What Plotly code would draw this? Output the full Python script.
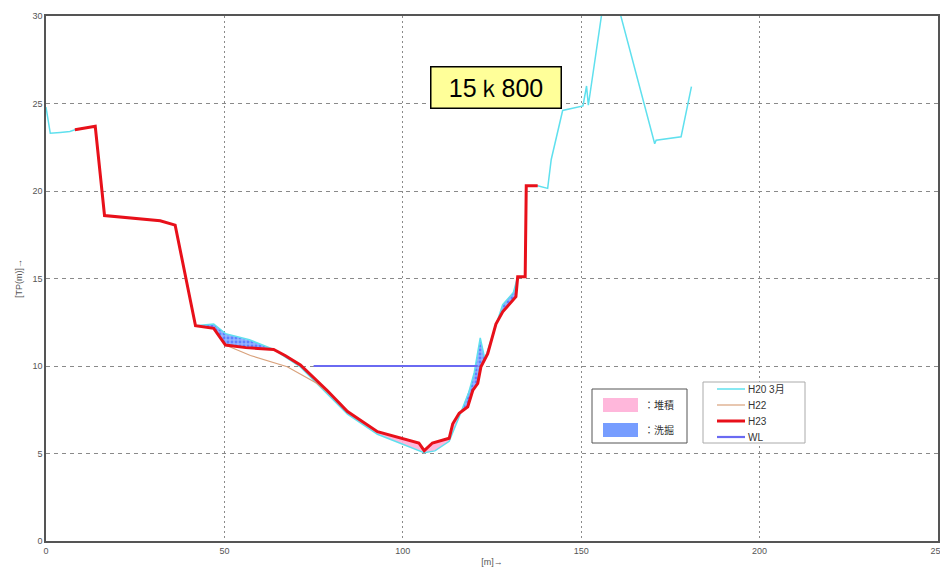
import numpy as np
import plotly.graph_objects as go

# ---- data ----
h23_x = [8.1, 13.8, 16.4, 32.0, 36.2, 41.9, 47.0, 50.3, 56.0, 63.8, 67.0, 71.3, 78.8, 84.5,
         92.9, 99.4, 103.2, 104.5, 106.0, 108.3, 113.0, 114.0, 115.8, 118.2, 119.6, 121.0,
         121.9, 123.8, 126.1, 128.0, 131.7, 132.2, 134.3, 134.6, 137.8]
h23_y = [23.5, 23.7, 18.6, 18.3, 18.05, 12.3, 12.15, 11.2, 11.05, 10.95, 10.6, 10.06, 8.6, 7.4,
         6.25, 5.87, 5.67, 5.6, 5.16, 5.6, 5.87, 6.7, 7.3, 7.67, 8.6, 9.0,
         9.96, 10.7, 12.4, 13.1, 13.96, 15.1, 15.1, 20.3, 20.3]

h22_x = [8.1, 13.8, 16.4, 32.0, 36.2, 41.9, 47.0, 50.3, 57.3, 67.6, 76.0, 82.6, 84.5,
         92.9, 99.4, 103.2, 104.5, 106.0, 108.3, 113.0, 114.0, 115.8, 118.2, 119.6, 121.0,
         121.9, 123.8, 126.1, 128.0, 131.7, 132.2, 134.3, 134.6, 137.8]
h22_y = [23.5, 23.7, 18.6, 18.3, 18.05, 12.3, 12.15, 11.2, 10.6, 9.96, 9.0, 7.85, 7.4,
         6.25, 5.87, 5.67, 5.6, 5.16, 5.6, 5.87, 6.7, 7.3, 7.67, 8.6, 9.0,
         9.96, 10.7, 12.4, 13.1, 13.96, 15.1, 15.1, 20.3, 20.3]

h20_x = [0.0, 1.2, 4.0, 6.7, 8.1, 13.8, 16.4, 32.0, 36.2, 41.9, 47.0, 50.3, 57.0, 63.8, 71.3,
         78.8, 84.5, 92.9, 99.4, 103.0, 106.0, 109.0, 113.0, 115.8, 118.5, 120.0, 121.7,
         123.0, 126.1, 128.0, 131.0, 132.2, 134.3, 134.6, 137.8, 140.6, 141.6, 144.8,
         150.5, 151.5, 152.0, 157.6, 170.6, 171.0, 178.0, 180.9]
h20_y = [24.8, 23.3, 23.35, 23.4, 23.5, 23.7, 18.6, 18.3, 18.05, 12.3, 12.4, 11.85, 11.5, 10.95, 9.95,
         8.4, 7.25, 6.1, 5.6, 5.3, 5.05, 5.15, 5.7, 7.1, 8.5, 9.6, 11.6,
         10.4, 12.4, 13.5, 14.2, 15.1, 15.1, 20.3, 20.3, 20.15, 21.8, 24.6,
         24.86, 26.0, 24.9, 32.7, 22.7, 22.9, 23.1, 25.96]

wl_x = [75.0, 121.0]
wl_y = [10.0, 10.0]

x_ticks = [0, 50, 100, 150, 200, 250]
y_ticks = [0, 5, 10, 15, 20, 25, 30]
section_label = "15ｋ800"

series_names = ["H20 3月", "H22", "H23", "WL"]
series_colors = ["#5fe0ee", "#d9a27c", "#e8101a", "#6a6af2"]
series_widths = [1.5, 1.2, 3, 2.2]
area_names = ["：堆積", "：洗掘"]
area_colors = ["rgba(255,175,215,0.9)", "rgba(95,140,255,0.85)"]

# ---- scour / deposition areas derived from the surveys ----
lo, hi = 41.9, 137.8
grid = np.unique(np.concatenate([[v for v in h20_x if lo <= v <= hi],
                                 [v for v in h23_x if lo <= v <= hi],
                                 np.linspace(lo, hi, 400)]))
i20 = np.interp(grid, h20_x, h20_y)
i23 = np.interp(grid, h23_x, h23_y)
upper = np.maximum(i20, i23)

fig = go.Figure()

# deposition (H23 above H20)
fig.add_trace(go.Scatter(x=grid, y=i20, mode="lines", line=dict(width=0),
                         showlegend=False, hoverinfo="skip"))
fig.add_trace(go.Scatter(x=grid, y=upper, mode="lines", line=dict(width=0),
                         fill="tonexty", fillcolor=area_colors[0],
                         name=area_names[0], showlegend=False, hoverinfo="skip"))
# scour (H20 above H23)
fig.add_trace(go.Scatter(x=grid, y=i23, mode="lines", line=dict(width=0),
                         showlegend=False, hoverinfo="skip"))
fig.add_trace(go.Scatter(x=grid, y=upper, mode="lines", line=dict(width=0),
                         fill="tonexty", fillcolor=area_colors[1],
                         fillpattern=dict(shape=".", fgcolor="#2a4dff", bgcolor="rgba(120,160,255,0.8)",
                                          size=4, solidity=0.4),
                         name=area_names[1], showlegend=False, hoverinfo="skip"))

for xs, ys, nm, col, w in zip([h20_x, h22_x, h23_x, wl_x], [h20_y, h22_y, h23_y, wl_y],
                              series_names, series_colors, series_widths):
    fig.add_trace(go.Scatter(x=xs, y=ys, mode="lines", name=nm,
                             line=dict(color=col, width=w), showlegend=False))

# ---- layout helpers (pixel -> paper) ----
L, R, T, B = 46, 938, 16, 541
def px(xp):
    return (xp - L) / (R - L)
def py(yp):
    return (B - yp) / (B - T)

shapes = []
annos = []

# line legend box
shapes.append(dict(type="rect", xref="paper", yref="paper",
                   x0=px(703), x1=px(805), y0=py(382), y1=py(443),
                   line=dict(color="#aaaaaa", width=1), fillcolor="white", layer="above"))
for i, (nm, col, w) in enumerate(zip(series_names, series_colors, series_widths)):
    yy = 389 + i * 16
    shapes.append(dict(type="line", xref="paper", yref="paper",
                       x0=px(717), x1=px(745), y0=py(yy), y1=py(yy),
                       line=dict(color=col, width=w), layer="above"))
    annos.append(dict(x=px(746), y=py(yy), xref="paper", yref="paper", text=nm,
                      showarrow=False, xanchor="left", yanchor="middle",
                      font=dict(size=10, color="#333333")))

# area legend box
shapes.append(dict(type="rect", xref="paper", yref="paper",
                   x0=px(592), x1=px(687), y0=py(389), y1=py(443),
                   line=dict(color="#555555", width=1), fillcolor="white", layer="above"))
for i, (nm, col) in enumerate(zip(area_names, area_colors)):
    yc = 405 + i * 25
    shapes.append(dict(type="rect", xref="paper", yref="paper",
                       x0=px(603), x1=px(638), y0=py(yc - 7), y1=py(yc + 7),
                       line=dict(width=0), fillcolor=col, layer="above"))
    annos.append(dict(x=px(642), y=py(yc), xref="paper", yref="paper", text=nm,
                      showarrow=False, xanchor="left", yanchor="middle",
                      font=dict(size=10, color="#333333")))

annos.append(dict(x=px(495.5), y=py(87), xref="paper", yref="paper",
                  xanchor="center", yanchor="middle",
                  text=section_label, showarrow=False,
                  font=dict(family="Liberation Sans, Arial", size=25, color="black"),
                  width=119, height=30,
                  bgcolor="#ffff99", bordercolor="black", borderwidth=1.5, borderpad=5))

axis_common = dict(showline=True, linecolor="#555555", linewidth=1.5, mirror=True,
                   showgrid=True, gridcolor="#8a8a8a", gridwidth=1,
                   zeroline=False, ticks="", automargin=False,
                   tickfont=dict(family="Liberation Sans, Arial", size=9, color="#555555"))

fig.update_layout(
    width=940, height=575,
    margin=dict(l=L, r=940 - R, t=T, b=575 - B),
    paper_bgcolor="white", plot_bgcolor="white",
    font=dict(family="Liberation Sans, Arial, Noto Sans CJK JP", size=10, color="#333333"),
    xaxis=dict(range=[0, 250], tickvals=x_ticks, griddash="2px,3px", ticklabeloverflow="allow",
               title=dict(text="[m]→", font=dict(size=9, color="#555555"), standoff=4),
               **axis_common),
    yaxis=dict(range=[0, 30], tickvals=y_ticks, griddash="4px,4px",
               title=dict(text="[TP(m)]→", font=dict(size=9, color="#555555"), standoff=8),
               **axis_common),
    shapes=shapes,
    annotations=annos,
    showlegend=False,
)

fig.write_html("out.html")
